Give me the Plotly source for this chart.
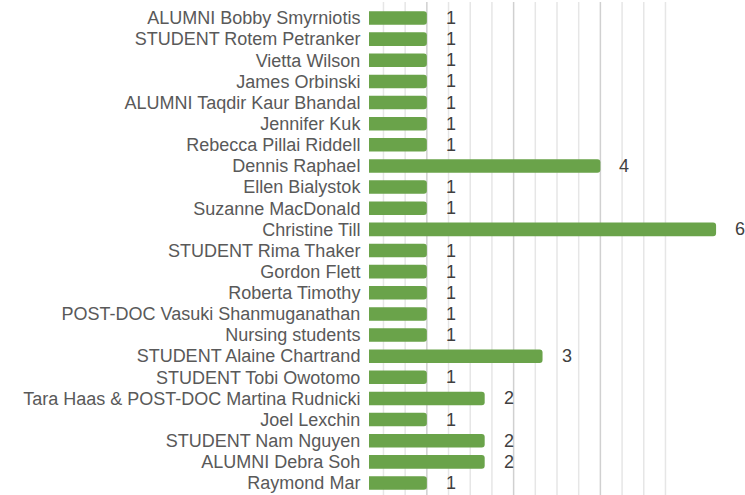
import plotly.graph_objects as go

names = [
    "ALUMNI Bobby Smyrniotis",
    "STUDENT Rotem Petranker",
    "Vietta Wilson",
    "James Orbinski",
    "ALUMNI Taqdir Kaur Bhandal",
    "Jennifer Kuk",
    "Rebecca Pillai Riddell",
    "Dennis Raphael",
    "Ellen Bialystok",
    "Suzanne MacDonald",
    "Christine Till",
    "STUDENT Rima Thaker",
    "Gordon Flett",
    "Roberta Timothy",
    "POST-DOC Vasuki Shanmuganathan",
    "Nursing students",
    "STUDENT Alaine Chartrand",
    "STUDENT Tobi Owotomo",
    "Tara Haas & POST-DOC Martina Rudnicki",
    "Joel Lexchin",
    "STUDENT Nam Nguyen",
    "ALUMNI Debra Soh",
    "Raymond Mar",
]
values = [1, 1, 1, 1, 1, 1, 1, 4, 1, 1, 6, 1, 1, 1, 1, 1, 3, 1, 2, 1, 2, 2, 1]

fig = go.Figure()
fig.add_trace(go.Bar(
    x=values, y=names, orientation="h",
    marker=dict(color="#6AA34A", cornerradius=3, line=dict(width=0)),
    hoverinfo="x+y",
))

# vertical gridlines
grid_start, grid_step, grid_n = 0.25, 0.375, 14
for k in range(grid_n):
    gx = grid_start + k * grid_step
    dark = (k % 4 == 2)
    fig.add_shape(type="line", xref="x", yref="paper", x0=gx, x1=gx, y0=0, y1=1.008,
                  line=dict(color="#D0D0D0" if dark else "#E6E6E6", width=1.5),
                  layer="below")

for n, v in zip(names, values):
    fig.add_annotation(x=v, y=n, text=str(v), showarrow=False, xanchor="left",
                       xshift=17, font=dict(size=18, color="#404040",
                                            family="Liberation Sans, Arial, sans-serif"))

fig.update_layout(
    width=745, height=495,
    margin=dict(l=369, r=0, t=6, b=0),
    paper_bgcolor="white", plot_bgcolor="white",
    bargap=0.36,
    showlegend=False,
    font=dict(family="Liberation Sans, Arial, sans-serif", size=18, color="#595959"),
    xaxis=dict(range=[0, 6.5], showgrid=False, zeroline=False, showticklabels=False,
               showline=False, fixedrange=True, automargin=False),
    yaxis=dict(autorange="reversed", showgrid=False, zeroline=False, showline=False,
               tickmode="array", tickvals=names, ticktext=names,
               ticks="outside", ticklen=4, tickcolor="rgba(0,0,0,0)",
               tickfont=dict(size=18, color="#595959"), fixedrange=True,
               automargin=False),
)

fig.write_html("out.html", config={"displayModeBar": False},
               post_script="document.body.style.margin='0';document.body.style.padding='0';")
